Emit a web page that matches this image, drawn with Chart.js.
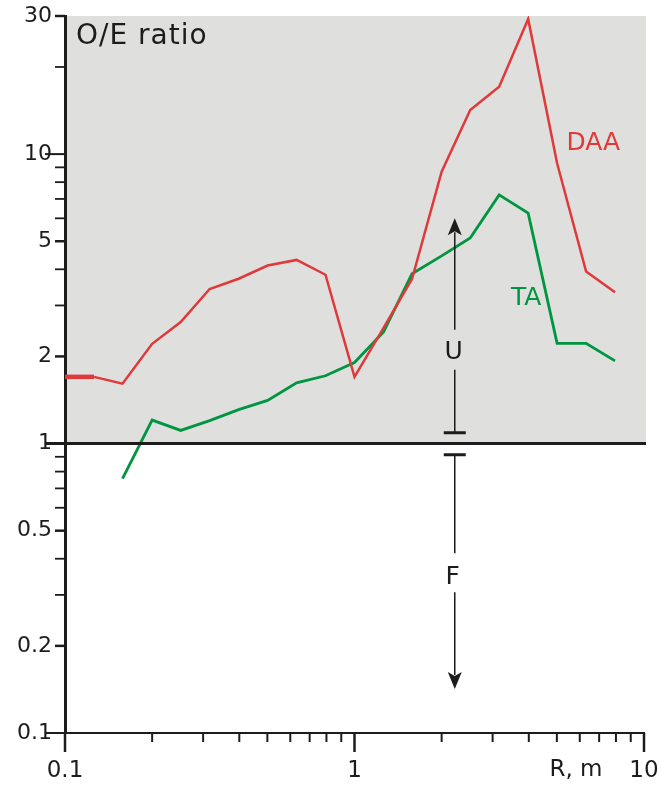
<!DOCTYPE html>
<html>
<head>
<meta charset="utf-8">
<script src="https://cdn.jsdelivr.net/npm/chart.js@4"></script>
<style>
	body { margin: 0; background: #ffffff; }
	canvas { display: block; }
</style>
</head>
<body>
<canvas id="myChart" width="661" height="787"></canvas>
<script>
// distance R, m (one tenth of a decade apart)
const rValues = [0.1, 0.126, 0.158, 0.2, 0.251, 0.316, 0.398, 0.501, 0.631, 0.794, 1, 1.26, 1.58, 2, 2.51, 3.16, 3.98, 5.01, 6.31, 7.94]
// O/E ratio per series
const daaRatio = [1.70, 1.70, 1.61, 2.21, 2.63, 3.42, 3.71, 4.12, 4.31, 3.83, 1.70, 2.51, 3.70, 8.7, 14.2, 17.1, 29.3, 9.3, 3.93, 3.33]
const taRatio = [null, null, 0.756, 1.205, 1.11, 1.20, 1.31, 1.41, 1.62, 1.715, 1.905, 2.43, 3.86, 4.45, 5.13, 7.23, 6.25, 2.22, 2.22, 1.93]

// axis ticks
const xTicks = [0.1, 0.2, 0.3, 0.4, 0.5, 0.6, 0.7, 0.8, 0.9, 1, 2, 3, 4, 5, 6, 7, 8, 9, 10]
const xTickLabels = [0.1, 1, 10]
const yTicks = [0.1, 0.2, 0.3, 0.4, 0.5, 0.6, 0.7, 0.8, 0.9, 1, 2, 3, 4, 5, 6, 7, 8, 9, 10, 20, 30]
const yTickLabels = [0.1, 0.2, 0.5, 1, 2, 5, 10, 30]
const yLongTicks = [0.1, 1, 10]

// U / F arrows (in data units)
const arrowR = 2.22
const upArrow = [6.0, 2.06, 1.09]     // tip, label, bar
const downArrow = [0.915, 0.345, 0.142] // bar, label, tip

const FONT = "'DejaVu Sans', Verdana, sans-serif"
const INK = "#1c1c1c"
const RED = "#e0393a"
const GREEN = "#00953f"

function toPoints(values) {
	return rValues
		.map((r, i) => ({ x: r, y: values[i] }))
		.filter(p => p.y !== null)
}

function arrowHead(ctx, x, y, dir) {
	// dir = -1 points up, 1 points down
	ctx.beginPath()
	ctx.moveTo(x, y)
	ctx.lineTo(x - 7, y - dir * 17)
	ctx.lineTo(x, y - dir * 13)
	ctx.lineTo(x + 7, y - dir * 17)
	ctx.closePath()
	ctx.fill()
}

const decorations = {
	id: "decorations",
	// shaded band above O/E = 1, painted before the axes
	beforeDraw(chart) {
		const { ctx, chartArea: area, scales: { y } } = chart
		const yOne = y.getPixelForValue(1)
		ctx.save()
		ctx.fillStyle = "#dfdfde"
		ctx.fillRect(area.left, area.top, area.right - area.left + 2, yOne - area.top)
		ctx.restore()
	},
	afterDatasetsDraw(chart) {
		const { ctx, chartArea: area, scales: { x, y } } = chart
		ctx.save()
		ctx.strokeStyle = INK

		// line at O/E = 1
		const yOne = y.getPixelForValue(1)
		ctx.lineWidth = 3
		ctx.beginPath()
		ctx.moveTo(area.left - 20, yOne)
		ctx.lineTo(area.right + 2, yOne)
		ctx.stroke()

		// x tick marks
		xTicks.forEach(v => {
			const px = x.getPixelForValue(v)
			const major = xTickLabels.includes(v)
			ctx.lineWidth = major ? 2.5 : 2
			ctx.beginPath()
			ctx.moveTo(px, area.bottom)
			ctx.lineTo(px, area.bottom + (major ? 19 : 9))
			ctx.stroke()
		})

		// y tick marks
		yTicks.forEach(v => {
			const py = y.getPixelForValue(v)
			const long = yLongTicks.includes(v)
			ctx.lineWidth = yTickLabels.includes(v) ? 2.5 : 1.8
			if (long) ctx.lineWidth = 2
			ctx.beginPath()
			ctx.moveTo(area.left - (long ? 20 : 10), py)
			ctx.lineTo(area.left, py)
			ctx.stroke()
		})

		// arrows
		const ax = x.getPixelForValue(arrowR)
		ctx.fillStyle = INK
		ctx.lineWidth = 1.5
		const uTip = y.getPixelForValue(upArrow[0])
		const uLab = y.getPixelForValue(upArrow[1])
		const uBar = y.getPixelForValue(upArrow[2])
		ctx.beginPath()
		ctx.moveTo(ax, uTip + 14); ctx.lineTo(ax, uLab - 23)
		ctx.moveTo(ax, uLab + 17); ctx.lineTo(ax, uBar)
		ctx.stroke()
		arrowHead(ctx, ax, uTip, -1)

		const fBar = y.getPixelForValue(downArrow[0])
		const fLab = y.getPixelForValue(downArrow[1])
		const fTip = y.getPixelForValue(downArrow[2])
		ctx.beginPath()
		ctx.moveTo(ax, fBar); ctx.lineTo(ax, fLab - 24)
		ctx.moveTo(ax, fLab + 15); ctx.lineTo(ax, fTip - 14)
		ctx.stroke()
		arrowHead(ctx, ax, fTip, 1)

		ctx.lineWidth = 3
		ctx.beginPath()
		ctx.moveTo(ax - 11, uBar); ctx.lineTo(ax + 11, uBar)
		ctx.moveTo(ax - 11, fBar); ctx.lineTo(ax + 11, fBar)
		ctx.stroke()

		// texts
		ctx.textAlign = "center"
		ctx.textBaseline = "middle"
		ctx.font = "25px " + FONT
		ctx.fillText("U", ax - 1, uLab)
		ctx.fillText("F", ax - 2, fLab)

		ctx.fillStyle = RED
		ctx.fillText("DAA", x.getPixelForValue(6.68), y.getPixelForValue(10.9))
		ctx.fillStyle = GREEN
		ctx.fillText("TA", x.getPixelForValue(3.92), y.getPixelForValue(3.16))

		ctx.fillStyle = INK
		ctx.font = "23px " + FONT
		ctx.fillText("R, m", x.getPixelForValue(5.82), area.bottom + 37)

		ctx.textAlign = "left"
		ctx.font = "28px " + FONT
		ctx.letterSpacing = "1px"
		ctx.fillText("O/E ratio", area.left + 11, area.top + 21)
		ctx.restore()
	}
}

new Chart("myChart", {
	type: "line",
	data: {
		datasets: [
			{
				label: "DAA",
				data: toPoints(daaRatio),
				borderColor: RED,
				borderWidth: 2.5,
				pointRadius: 0,
				tension: 0,
				segment: {
					borderWidth: ctx => ctx.p0DataIndex === 0 ? 4.5 : 2.5
				}
			},
			{
				label: "TA",
				data: toPoints(taRatio),
				borderColor: GREEN,
				borderWidth: 2.8,
				pointRadius: 0,
				tension: 0
			}
		]
	},
	options: {
		responsive: false,
		animation: false,
		layout: {
			padding: { top: 16, right: 17, left: 0, bottom: 0 }
		},
		plugins: {
			legend: { display: false },
			tooltip: { enabled: false }
		},
		scales: {
			x: {
				type: "logarithmic",
				min: 0.1,
				max: 10,
				afterBuildTicks: scale => {
					scale.ticks = xTicks.map(v => ({ value: v }))
				},
				afterFit: scale => {
					scale.height = 54
					scale.paddingLeft = 0
					scale.paddingRight = 0
				},
				ticks: {
					autoSkip: false,
					maxRotation: 0,
					padding: 24,
					color: INK,
					font: { family: FONT, size: 23 },
					callback: v => xTickLabels.includes(v) ? String(v) : ""
				},
				grid: { display: false, drawTicks: false },
				border: { display: true, color: INK, width: 2 }
			},
			y: {
				type: "logarithmic",
				min: 0.1,
				max: 30,
				afterBuildTicks: scale => {
					scale.ticks = yTicks.map(v => ({ value: v }))
				},
				afterFit: scale => {
					scale.width = 65
					scale.paddingTop = 0
					scale.paddingBottom = 0
				},
				ticks: {
					autoSkip: false,
					padding: 13,
					color: INK,
					font: { family: FONT, size: 22 },
					callback: v => yTickLabels.includes(v) ? String(v) : ""
				},
				grid: { display: false, drawTicks: false },
				border: { display: true, color: INK, width: 3 }
			}
		}
	},
	plugins: [decorations]
})
</script>
</body>
</html>
